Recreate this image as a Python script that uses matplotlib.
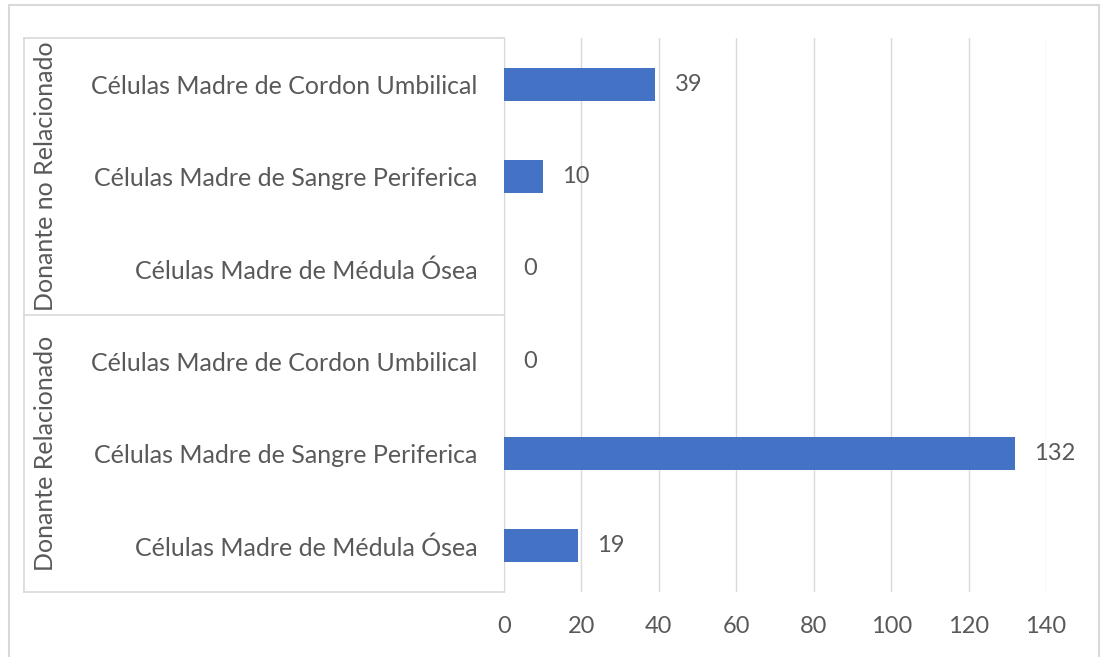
import matplotlib
matplotlib.use("Agg")
import matplotlib.pyplot as plt
from matplotlib.patches import Rectangle
from matplotlib.lines import Line2D

# Data (top to bottom)
groups = ["Donante no Relacionado", "Donante Relacionado"]
categories = [
    "Células Madre de Cordon Umbilical",
    "Células Madre de Sangre Periferica",
    "Células Madre de Médula Ósea",
    "Células Madre de Cordon Umbilical",
    "Células Madre de Sangre Periferica",
    "Células Madre de Médula Ósea",
]
group_sizes = [3, 3]
values = [39, 10, 0, 0, 132, 19]
xticks = [0, 20, 40, 60, 80, 100, 120, 140]

BAR = "#4472C4"
TXT = "#595959"
GRID = "#D9D9D9"

plt.rcParams["font.family"] = ["Lato", "DejaVu Sans"]

W, H = 1101, 657
fig = plt.figure(figsize=(W / 100, H / 100), dpi=100)

# outer chart frame
fig.patches.append(Rectangle((9 / W, -0.05), (1099 - 9) / W, 1.05 - 5 / H,
                             transform=fig.transFigure, fill=False,
                             edgecolor=GRID, linewidth=1.5))

left, right, top, bottom = 504, 1046, 38, 592
ax = fig.add_axes([left / W, 1 - bottom / H, (right - left) / W, (bottom - top) / H])

n = len(values)
ypos = list(range(n))
ax.barh(ypos, values, height=0.36, color=BAR, zorder=3)
ax.set_ylim(n - 0.5, -0.5)
ax.set_xlim(xticks[0], xticks[-1])

ax.set_xticks(xticks)
ax.set_xticklabels([str(t) for t in xticks], fontsize=17, color=TXT)
ax.tick_params(axis="x", length=0, pad=17)
ax.set_yticks(ypos)
ax.set_yticklabels(categories, fontsize=18, color=TXT)
ax.tick_params(axis="y", length=0, pad=19)

ax.grid(axis="x", color=GRID, linewidth=1, zorder=0)
for s in ["top", "right", "bottom"]:
    ax.spines[s].set_visible(False)
ax.spines["left"].set_color(GRID)

# value labels
for y, v in zip(ypos, values):
    ax.annotate(str(v), (v, y), xytext=(14, 0), textcoords="offset points",
                ha="left", va="center", fontsize=17, color=TXT,
                annotation_clip=False)

# multi-level category frame
trans = ax.get_yaxis_transform()
x_outer = (24 - left) / (right - left)
bounds = [-0.5]
for g in group_sizes:
    bounds.append(bounds[-1] + g)
for b in bounds:
    ax.add_line(Line2D([x_outer, 0], [b, b], transform=trans, color=GRID,
                       linewidth=1.2, clip_on=False))
ax.add_line(Line2D([x_outer, x_outer], [bounds[0], bounds[-1]], transform=trans,
                   color=GRID, linewidth=1.2, clip_on=False))

x_group = (46 - left) / (right - left)
for g, lo, hi in zip(groups, bounds[:-1], bounds[1:]):
    ax.text(x_group, (lo + hi) / 2, g, transform=trans, rotation=90,
            ha="center", va="center", fontsize=18, color=TXT)

fig.savefig("out.png", dpi=100)
